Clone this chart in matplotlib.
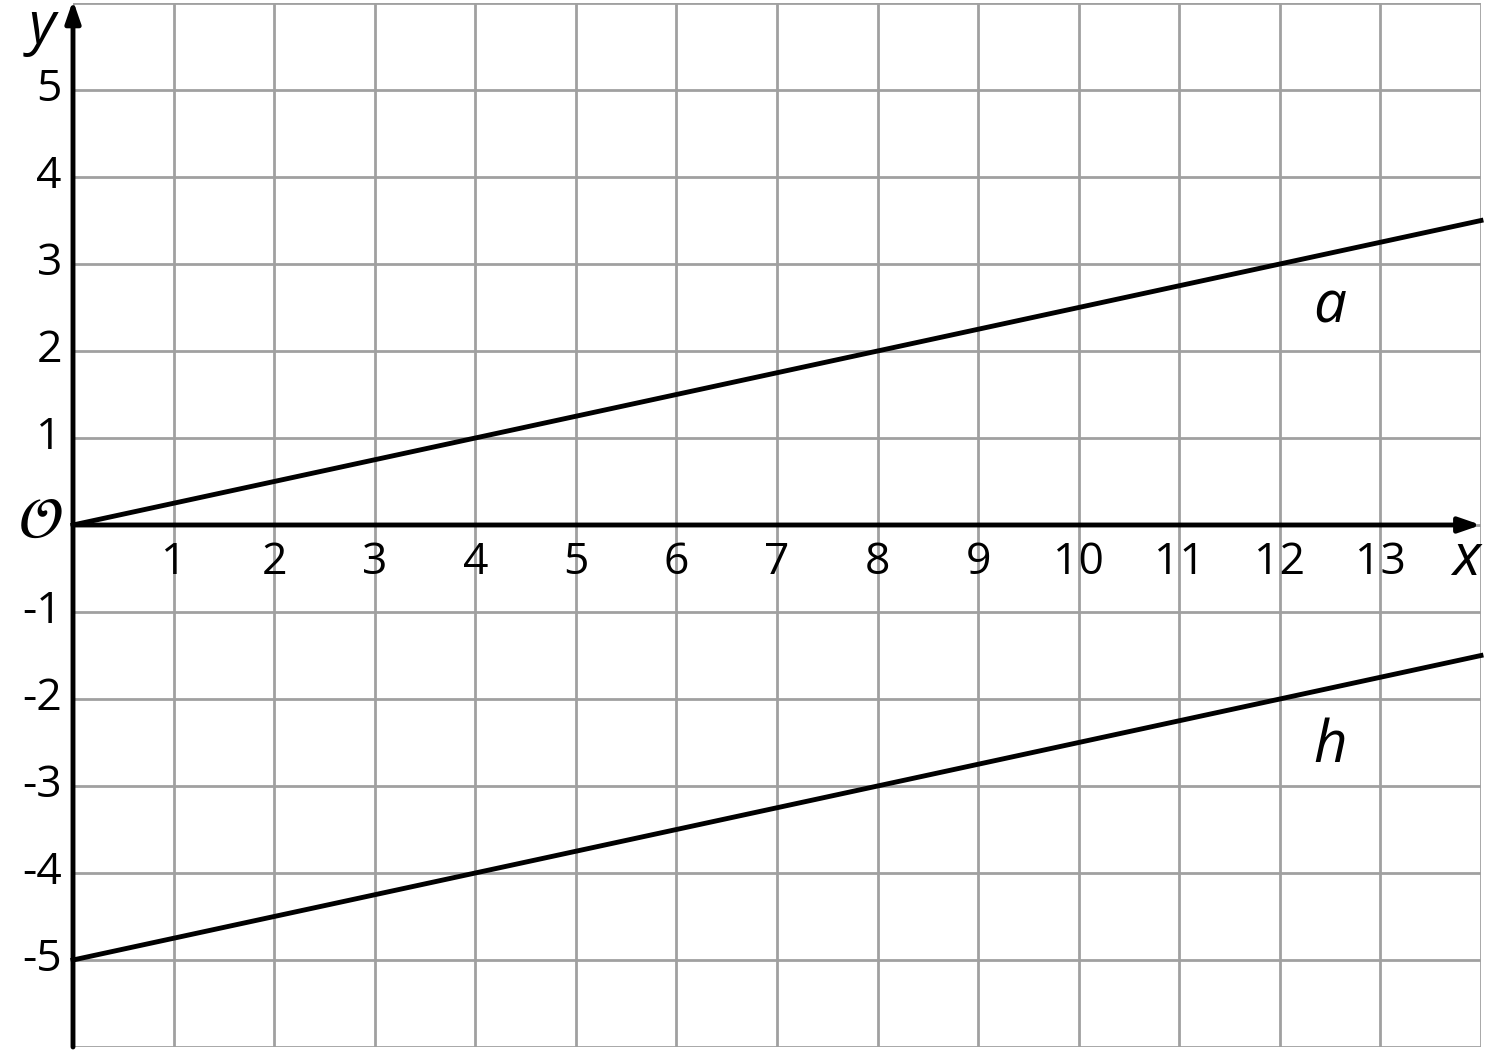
import matplotlib
matplotlib.use("Agg")
import matplotlib.pyplot as plt

plt.rcParams['font.family'] = ['Open Sans', 'DejaVu Sans']

x_ticks = list(range(1, 14))
y_ticks = [-5, -4, -3, -2, -1, 1, 2, 3, 4, 5]
x_line = [0, 14]
a_vals = [0, 3.5]
h_vals = [-5, -1.5]
line_labels = ["a", "h"]
label_pos = [(12.5, 2.5), (12.5, -2.55)]

fig = plt.figure(figsize=(14.86, 10.5), dpi=100)
ax = fig.add_axes([73/1486, 3/1050, (1481-73)/1486, (1047-3)/1050])
ax.set_xlim(0, 14)
ax.set_ylim(-6, 6)

for xv in range(0, 15):
    ax.axvline(xv, color='#a0a0a0', lw=2.0, zorder=1)
for yv in range(-6, 7):
    ax.axhline(yv, color='#a0a0a0', lw=2.0, zorder=1)

for s in ax.spines.values():
    s.set_visible(False)
ax.set_xticks([])
ax.set_yticks([])

# axes
ax.annotate('', xy=(14.0, 0), xytext=(0, 0),
            arrowprops=dict(arrowstyle='-|>,head_length=1.3,head_width=0.45', color='black', lw=3.5,
                            shrinkA=0, shrinkB=0), annotation_clip=False, zorder=4)
ax.annotate('', xy=(0, 6.03), xytext=(0, -6),
            arrowprops=dict(arrowstyle='-|>,head_length=1.3,head_width=0.45', color='black', lw=3.5,
                            shrinkA=0, shrinkB=0), annotation_clip=False, zorder=4)

ax.plot(x_line, a_vals, color='black', lw=3.5, zorder=3, clip_on=False)
ax.plot(x_line, h_vals, color='black', lw=3.5, zorder=3, clip_on=False)

fs = 32
for xv in x_ticks:
    ax.text(xv, -0.18, str(xv), ha='center', va='top', fontsize=fs, zorder=5)
for yv in y_ticks:
    ax.text(-0.11, yv, str(yv), ha='right', va='center', fontsize=fs, clip_on=False, zorder=5)

ax.text(-0.33, 0.03, r'$\mathcal{O}$', ha='center', va='center', fontsize=42, clip_on=False)
ax.text(13.85, -0.4, 'x', ha='center', va='center', fontsize=42, style='italic')
ax.text(-0.31, 5.72, 'y', ha='center', va='center', fontsize=42, style='italic', clip_on=False)

for lbl, (lx, ly) in zip(line_labels, label_pos):
    ax.text(lx, ly, lbl, ha='center', va='center', fontsize=42, style='italic')

fig.savefig('out.png', dpi=100)
